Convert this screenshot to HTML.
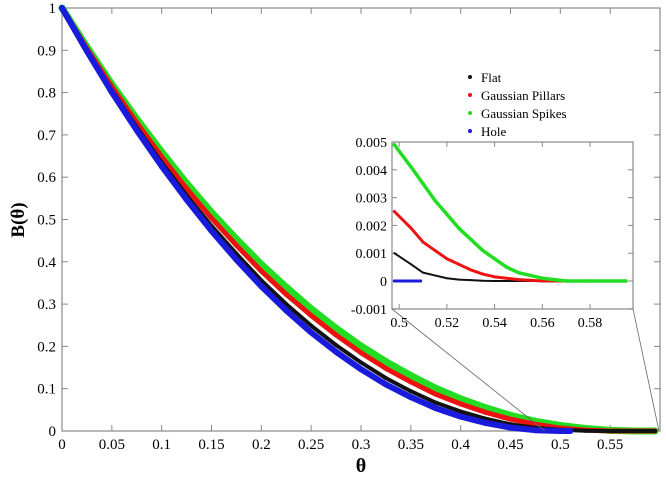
<!DOCTYPE html>
<html><head><meta charset="utf-8"><style>
body{margin:0;background:#fff}
svg text{font-family:"Liberation Serif",serif;fill:#000}
</style></head><body>
<svg id="c" width="666" height="476" xmlns="http://www.w3.org/2000/svg"></svg>
<script>
const thetaA=[0,.025,.05,.075,.1,.125,.15,.175,.2,.225,.25,.275,.3,.325,.35,.375,.4,.425,.45,.475,.5,.525,.55,.575,.595];
const flatB=[1,.900,.806,.718,.635,.557,.485,.419,.356,.300,.249,.203,.162,.125,.094,.067,.046,.029,.016,.0075,.003,.0005,0,0,0];
const pillarsB=[1,.904,.814,.729,.648,.573,.503,.439,.378,.323,.273,.227,.185,.148,.116,.087,.064,.044,.028,.016,.007,.002,0,0,0];
const spikesB=[1,.908,.820,.738,.660,.586,.517,.454,.394,.340,.289,.243,.201,.164,.131,.101,.076,.055,.037,.023,.013,.006,.0015,0,0];
const holeT=[0,.025,.05,.075,.1,.125,.15,.175,.2,.225,.25,.275,.3,.325,.35,.375,.4,.425,.45,.475,.5,.51];
const holeB=[1,.898,.801,.711,.626,.547,.473,.405,.342,.285,.233,.187,.146,.110,.080,.054,.034,.019,.008,.0019,0,0];
const insT=[.498,.505,.51,.515,.52,.525,.53,.535,.54,.545,.55,.56,.57,.58,.595];
const insSpikes=[.0049,.0041,.0035,.0029,.0024,.0019,.0015,.0011,.0008,.0005,.0003,.0001,0,0,0];
const insPillars=[.0025,.0019,.0014,.0011,.0008,.0006,.0004,.00025,.00015,.0001,.00005,0,0,0,0];
const insFlat=[.001,.0006,.0003,.0002,.0001,.00005,.00003,.00001,0,0,0,0,0,0,0];
const insHoleT=[.498,.509];
const insHoleB=[0,0];
const xTicks=[0,.05,.1,.15,.2,.25,.3,.35,.4,.45,.5,.55];
const yTicks=[0,.1,.2,.3,.4,.5,.6,.7,.8,.9,1];
const ixTicks=[.5,.52,.54,.56,.58];
const iyTicks=[-.001,0,.001,.002,.003,.004,.005];

const NS="http://www.w3.org/2000/svg",svg=document.getElementById('c');
function mk(t,a,p){const e=document.createElementNS(NS,t);for(const k in a)e.setAttribute(k,a[k]);(p||svg).appendChild(e);return e;}
const X=v=>62+(v/0.6)*598, Y=v=>431-v*423;
const IX=v=>392+(v-0.497)/(0.598-0.497)*241, IY=v=>281-v*27800;

let fr=mk('rect',{x:62,y:8,width:598,height:423,fill:'none',stroke:'#888','stroke-width':1.2});

xTicks.forEach(t=>{mk('line',{x1:X(t),x2:X(t),y1:431,y2:425,stroke:'#888'});mk('line',{x1:X(t),x2:X(t),y1:8,y2:14,stroke:'#888'});
 let l=mk('text',{x:X(t),y:449,'font-size':15,'text-anchor':'middle'});l.textContent=String(t);
 });
yTicks.forEach(t=>{mk('line',{x1:62,x2:68,y1:Y(t),y2:Y(t),stroke:'#888'});mk('line',{x1:660,x2:654,y1:Y(t),y2:Y(t),stroke:'#888'});
 let l=mk('text',{x:56,y:Y(t)+5,'font-size':15,'text-anchor':'end'});l.textContent=String(t);
 });
let xt=mk('text',{x:361,y:472,'font-size':20,'text-anchor':'middle','font-weight':'bold'});xt.textContent='θ';

let yt=mk('text',{x:24,y:220,'font-size':19,'text-anchor':'middle','font-weight':'bold',transform:'rotate(-90 24 220)'});yt.textContent='B(θ)';


function series(xs,ys,col,fx,fy,w,name){
 const g=mk('g',{});
 
 mk('polyline',{points:xs.map((x,i)=>fx(x)+','+fy(ys[i])).join(' '),fill:'none',stroke:col,'stroke-width':w,'stroke-linejoin':'round','stroke-linecap':'round'},g);
 xs.forEach((x,i)=>{const c=mk('circle',{cx:fx(x),cy:fy(ys[i]),r:w/2,fill:col},g);
  });
}
series(thetaA,spikesB,'#22dd22',X,Y,7,'series-gaussian-spikes');
series(thetaA,pillarsB,'#ee1111',X,Y,5,'series-gaussian-pillars');
series(thetaA,flatB,'#111',X,Y,4,'series-flat');
series(holeT,holeB,'#1a1add',X,Y,6,'series-hole');

// inset
mk('line',{x1:392,y1:309,x2:545,y2:431,stroke:'#666','stroke-width':0.8});
mk('line',{x1:633,y1:309,x2:659,y2:431,stroke:'#666','stroke-width':0.8});
let ib=mk('rect',{x:392,y:142,width:241,height:167,fill:'#fff',stroke:'#888','stroke-width':1.2});

ixTicks.forEach(t=>{mk('line',{x1:IX(t),x2:IX(t),y1:309,y2:304,stroke:'#888'});mk('line',{x1:IX(t),x2:IX(t),y1:142,y2:147,stroke:'#888'});
 let l=mk('text',{x:IX(t),y:327,'font-size':14,'text-anchor':'middle'});l.textContent=String(t);
 });
iyTicks.forEach(t=>{mk('line',{x1:392,x2:397,y1:IY(t),y2:IY(t),stroke:'#888'});mk('line',{x1:633,x2:628,y1:IY(t),y2:IY(t),stroke:'#888'});
 let l=mk('text',{x:387,y:IY(t)+5,'font-size':14,'text-anchor':'end'});l.textContent=String(t);
 });
series(insT,insFlat,'#111',IX,IY,2,'inset-flat');
series(insT,insPillars,'#ee1111',IX,IY,3,'inset-gaussian-pillars');
series(insT,insSpikes,'#22dd22',IX,IY,3.5,'inset-gaussian-spikes');
series(insHoleT,insHoleB,'#1a1add',IX,IY,3,'inset-hole');

// legend
const names=['Flat','Gaussian Pillars','Gaussian Spikes','Hole'],cols=['#111','#ee1111','#22dd22','#1a1add'];
names.forEach((n,i)=>{const g=mk('g',{});
 
 mk('circle',{cx:470,cy:77+i*18,r:2,fill:cols[i]},g);
 const t=mk('text',{x:481,y:82+i*18,'font-size':13},g);t.textContent=n;});
</script>
</body></html>
